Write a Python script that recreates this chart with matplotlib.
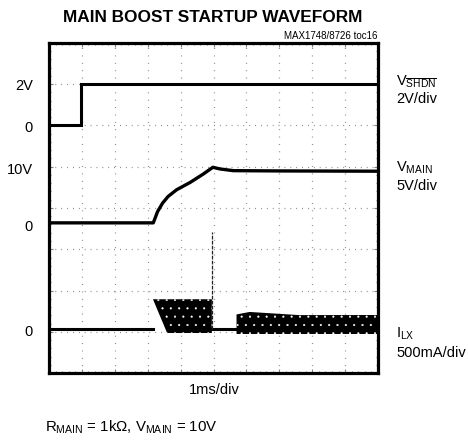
import matplotlib
matplotlib.use("Agg")
import matplotlib.pyplot as plt
import numpy as np

# ---------------- data (time in ms, 1 ms/div) ----------------
shdn_t = [0.0, 0.98, 0.98, 10.0]
shdn_v = [0.0, 0.0, 2.0, 2.0]            # V

main_t = [0.0, 3.17, 3.30, 3.45, 3.62, 3.88, 4.29, 4.69, 4.98, 5.20, 5.60, 7.0, 10.0]
main_v = [0.0, 0.0, 2.0, 3.5, 4.7, 5.9, 7.2, 8.7, 9.9, 9.6, 9.3, 9.25, 9.2]   # V

ilx_base_t = [0.0, 3.16, 4.95, 5.70]     # baseline segments (0 mA)
ilx_b1_t = [3.16, 3.59, 4.95]
ilx_b1_hi = [364, 364, 364]              # mA
ilx_b1_lo = [364, -45, -45]
ilx_b2_t = [5.70, 6.10, 7.60, 10.0]
ilx_b2_hi = [180, 210, 172, 173]
ilx_b2_lo = [-57, -57, -57, -57]
ilx_spike_t = 4.95
ilx_spike_top = 1180                     # mA

# ---------------- channel placement (divisions) ----------------
SHDN_ZERO, SHDN_PER_DIV = 6.0, 2.0
MAIN_ZERO, MAIN_PER_DIV = 3.64, 7.35
ILX_ZERO, ILX_PER_DIV = 1.06, 500.0

FONT = 'Liberation Sans'
plt.rcParams['font.family'] = [FONT, 'DejaVu Sans']
plt.rcParams['mathtext.fontset'] = 'custom'
plt.rcParams['mathtext.rm'] = FONT
plt.rcParams['mathtext.it'] = FONT
plt.rcParams['mathtext.bf'] = FONT + ':bold'
plt.rcParams['hatch.linewidth'] = 0.3

fig = plt.figure(figsize=(4.68, 4.41), dpi=100)
ax = fig.add_axes([49/468, 68/441, 329/468, 330/441])
ax.set_xlim(0, 10)
ax.set_ylim(0, 8)

def d(v, zero, per):
    return zero + np.asarray(v, dtype=float) / per

# grid
for gx in range(1, 10):
    ax.axvline(gx, color='#808080', lw=0.9, ls=(0, (0.7, 5.2)), zorder=1)
for gy in range(1, 8):
    ax.axhline(gy, color='#808080', lw=0.9, ls=(0, (0.7, 4.0)), zorder=1)

ax.set_xticks(range(0, 11))
ax.set_yticks(range(0, 9))
ax.set_xticks(np.arange(0, 10.01, 0.2), minor=True)
ax.set_yticks(np.arange(0, 8.01, 0.2), minor=True)
ax.tick_params(which='both', direction='in', top=True, right=True,
               labelbottom=False, labelleft=False, color='#808080', width=0.8)
ax.tick_params(which='major', length=3)
ax.tick_params(which='minor', length=1.5)
for s in ax.spines.values():
    s.set_linewidth(2.3)

# traces
ax.plot(shdn_t, d(shdn_v, SHDN_ZERO, SHDN_PER_DIV), color='black', lw=2.2,
        solid_joinstyle='miter', zorder=3)
ax.plot(main_t, d(main_v, MAIN_ZERO, MAIN_PER_DIV), color='black', lw=2.4, zorder=3)

ax.plot(ilx_base_t[:2], d([0, 0], ILX_ZERO, ILX_PER_DIV), color='black', lw=2.2, zorder=3)
ax.plot(ilx_base_t[2:], d([0, 0], ILX_ZERO, ILX_PER_DIV), color='black', lw=2.2, zorder=3)
ax.fill_between(ilx_b1_t, d(ilx_b1_lo, ILX_ZERO, ILX_PER_DIV), d(ilx_b1_hi, ILX_ZERO, ILX_PER_DIV),
                facecolor='black', edgecolor='white', hatch='..', lw=0, zorder=3)
ax.fill_between(ilx_b2_t, d(ilx_b2_lo, ILX_ZERO, ILX_PER_DIV), d(ilx_b2_hi, ILX_ZERO, ILX_PER_DIV),
                facecolor='black', edgecolor='white', hatch='..', lw=0, zorder=3)
ax.plot([ilx_spike_t, ilx_spike_t], d([0, ilx_spike_top], ILX_ZERO, ILX_PER_DIV),
        color='#222222', lw=0.9, ls=(0, (3, 1)), zorder=3)

# texts (figure pixel coords)
W, H = 468, 441
def ft(x, y, s, **kw):
    fig.text(x / W, 1 - y / H, s, **kw)

ft(213, 18, 'MAIN BOOST STARTUP WAVEFORM', ha='center', va='center',
   fontsize=12.4, fontweight='bold')
ft(378, 36, 'MAX1748/8726 toc16', ha='right', va='center', fontsize=7)

FS = 10.5
for y, s in [(86, '2V'), (128, '0'), (170, '10V'), (227, '0'), (332, '0')]:
    ft(33, y, s, ha='right', va='center', fontsize=FS)

ft(396, 85, r'V$_{\overline{\mathrm{SHDN}}}$', ha='left', va='baseline', fontsize=FS)
ft(396, 103, '2V/div', ha='left', va='baseline', fontsize=FS)
ft(396, 172, r'V$_{\mathrm{MAIN}}$', ha='left', va='baseline', fontsize=FS)
ft(396, 190, '5V/div', ha='left', va='baseline', fontsize=FS)
ft(396, 338, r'I$_{\mathrm{LX}}$', ha='left', va='baseline', fontsize=FS)
ft(396, 357, '500mA/div', ha='left', va='baseline', fontsize=FS)

ft(214, 390, '1ms/div', ha='center', va='center', fontsize=FS)
ft(45, 432, r'R$_{\mathrm{MAIN}}$ = 1k$\Omega$, V$_{\mathrm{MAIN}}$ = 10V', ha='left',
   va='baseline', fontsize=10.8)

fig.savefig('out.png', dpi=100)
